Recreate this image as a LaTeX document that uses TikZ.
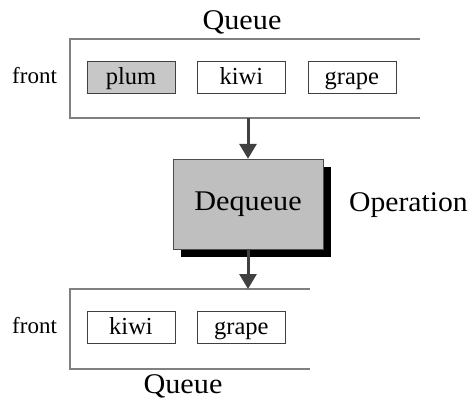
\documentclass[tikz,border=0pt]{standalone}
\usepackage{fontspec}
\setmainfont{Liberation Serif}
\usetikzlibrary{arrows.meta,shadows,positioning}
\newcommand{\widetxt}[2][1.06]{\scalebox{#1}[1]{#2}}

\begin{document}
\begin{tikzpicture}[x=1pt,y=-1pt]
        \tikzstyle{item}=[draw=black!75, minimum width=88pt, minimum height=32pt, inner sep=0pt, text height=19pt, text depth=4pt, font=\fontsize{24.5}{28}\selectfont, node distance=22pt]
        \tikzstyle{big}=[font=\fontsize{28.5}{32}\selectfont, inner sep=0pt]
        \tikzstyle{small}=[font=\fontsize{23}{26}\selectfont, inner sep=0pt, anchor=base west]
        \tikzstyle{frame}=[draw=black!50, line width=1.5pt]
        \tikzstyle{connect}=[-{Triangle[width=17pt,length=15pt]}, line width=3pt, draw=black!75]
        \useasboundingbox (0,0) rectangle (471,400);
        % queue before
        \draw[frame] (420,39) -- (70,39) -- (70,118) -- (420,118);
        \node[big, anchor=base] (qtop) at (242,29) {\widetxt{Queue}};
        \node[small] (ftop) at (12,83) {front};
        \node[item, fill=black!22] (plum) at (131,77) {plum};
        \node[item] (kiwi1) [right=of plum] {kiwi};
        \node[item] (grape1) [right=of kiwi1] {grape};
        % operation
        \node[big, draw=black!70, fill=black!25, minimum width=150pt, minimum height=90pt,
          drop shadow={shadow xshift=8pt, shadow yshift=-8pt, fill=black, opacity=1}] (deq) at (248,204) {\widetxt{Dequeue}};
        \node[big, anchor=base west] (op) at (349,211) {\widetxt[1.04]{Operation}};
        % queue after
        \draw[frame] (310,289) -- (70,289) -- (70,369) -- (310,369);
        \node[big, anchor=base] (qbot) at (183,393) {\widetxt{Queue}};
        \node[small] (fbot) at (12,333) {front};
        \node[item] (kiwi2) at (131,327) {kiwi};
        \node[item] (grape2) [right=of kiwi2] {grape};
        \coordinate (qout) at (248,118);
        \coordinate (qin) at (248,289);
        \path (qout) edge [connect] (deq)
        (deq) edge [connect] (qin);
      \end{tikzpicture}
\end{document}
